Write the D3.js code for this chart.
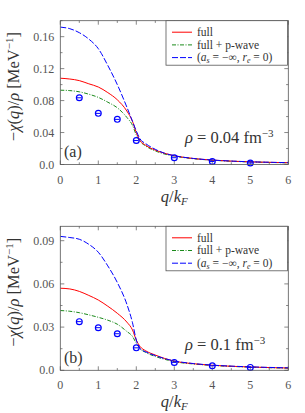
<!DOCTYPE html>
<html>
<head>
<meta charset="utf-8">
<script src="https://cdnjs.cloudflare.com/ajax/libs/d3/7.8.5/d3.min.js"></script>
<style>
  body { margin: 0; background: #fff; }
  svg text { font-family: "Liberation Serif", "DejaVu Serif", serif; fill: #333; }
  .tick-label { font-size: 12px; fill: #555; }
  .leg { font-size: 11.5px; fill: #333; }
</style>
</head>
<body>
<div id="chart"></div>
<script>
// ---- data ----
var qFine = [0, 0.25, 0.5, 0.75, 1, 1.25, 1.5, 1.75, 1.9, 2, 2.1, 2.25, 2.5, 2.75, 3, 3.5, 4, 4.5, 5, 5.5, 6];

var fullA   = [0.108, 0.107, 0.105, 0.101, 0.097, 0.090, 0.081, 0.067, 0.054, 0.040, 0.030, 0.024, 0.018, 0.014, 0.011, 0.0075, 0.0055, 0.0042, 0.0033, 0.0027, 0.0022];
var pwaveA  = [0.093, 0.0925, 0.091, 0.088, 0.084, 0.078, 0.071, 0.059, 0.049, 0.037, 0.029, 0.023, 0.017, 0.013, 0.0105, 0.0073, 0.0054, 0.0041, 0.0032, 0.0026, 0.0021];
var unitA   = [0.172, 0.170, 0.165, 0.157, 0.145, 0.124, 0.100, 0.072, 0.054, 0.042, 0.032, 0.026, 0.019, 0.014, 0.011, 0.0076, 0.0056, 0.0043, 0.0034, 0.0028, 0.0023];
var qDots   = [0.5, 1, 1.5, 2, 3, 4, 5];
var dotsA   = [0.0835, 0.064, 0.0565, 0.030, 0.0085, 0.0038, 0.0018];

var fullB   = [0.057, 0.0565, 0.0548, 0.052, 0.0488, 0.0445, 0.0396, 0.0335, 0.0280, 0.021, 0.0165, 0.0135, 0.0106, 0.0082, 0.0064, 0.0046, 0.0035, 0.0028, 0.0023, 0.0019, 0.0016];
var pwaveB  = [0.0415, 0.041, 0.040, 0.0385, 0.0368, 0.0348, 0.0320, 0.0270, 0.0235, 0.0188, 0.0150, 0.0124, 0.0096, 0.0076, 0.0060, 0.0044, 0.0034, 0.0027, 0.0022, 0.0018, 0.0015];
var unitB   = [0.093, 0.0922, 0.091, 0.0875, 0.082, 0.0725, 0.061, 0.046, 0.033, 0.021, 0.0150, 0.0128, 0.0102, 0.0081, 0.0065, 0.0047, 0.0036, 0.0029, 0.0024, 0.0020, 0.0017];
var dotsB   = [0.0338, 0.0296, 0.0254, 0.0156, 0.0055, 0.0031, 0.0020];

var xTicks = [0, 1, 2, 3, 4, 5, 6];
var yTicksA = [0, 0.04, 0.08, 0.12, 0.16];
var yTicksB = [0, 0.03, 0.06, 0.09];
var tickLabelsA = ["0.0", "0.04", "0.08", "0.12", "0.16"];
var tickLabelsB = ["0.0", "0.03", "0.06", "0.09"];
var legendNames = ["full", "full + p-wave", "(a_s = −∞, r_e = 0)"];

var W = 305, H = 413;
var svg = d3.select("#chart").append("svg").attr("width", W).attr("height", H);

var panels = [
  {top: 20.7, bottom: 164.5, yMax: 0.18, yTicks: yTicksA, yLabels: tickLabelsA, yMinor: 0.02,
   full: fullA, pwave: pwaveA, unit: unitA, dots: dotsA, tag: "(a)", rho: "0.04"},
  {top: 226.3, bottom: 370.3, yMax: 0.1, yTicks: yTicksB, yLabels: tickLabelsB, yMinor: 0.015,
   full: fullB, pwave: pwaveB, unit: unitB, dots: dotsB, tag: "(b)", rho: "0.1"}
];

var left = 60.3, right = 288.3;

panels.forEach(function(p) {
  var x = d3.scaleLinear().domain([0, 6]).range([left, right]);
  var y = d3.scaleLinear().domain([0, p.yMax]).range([p.bottom, p.top]);
  var g = svg.append("g");

  // clip
  var cid = "clip" + p.tag.charAt(1);
  g.append("clipPath").attr("id", cid).append("rect")
    .attr("x", left).attr("y", p.top).attr("width", right - left).attr("height", p.bottom - p.top);

  // ticks (inside, all four sides)
  var xMinor = d3.range(0, 6.01, 0.5);
  xMinor.forEach(function(v) {
    var major = Math.abs(v - Math.round(v)) < 1e-6;
    var len = major ? 4 : 2.2;
    g.append("line").attr("x1", x(v)).attr("x2", x(v)).attr("y1", p.bottom).attr("y2", p.bottom - len)
      .attr("stroke", "#555").attr("stroke-width", 0.7);
    g.append("line").attr("x1", x(v)).attr("x2", x(v)).attr("y1", p.top).attr("y2", p.top + len)
      .attr("stroke", "#555").attr("stroke-width", 0.7);
  });
  var yMinor = d3.range(0, p.yMax + 1e-9, p.yMinor);
  yMinor.forEach(function(v, i) {
    var len = (i % 2 === 0) ? 4 : 2.2;
    g.append("line").attr("x1", left).attr("x2", left + len).attr("y1", y(v)).attr("y2", y(v))
      .attr("stroke", "#555").attr("stroke-width", 0.7);
    g.append("line").attr("x1", right).attr("x2", right - len).attr("y1", y(v)).attr("y2", y(v))
      .attr("stroke", "#555").attr("stroke-width", 0.7);
  });

  // tick labels
  xTicks.forEach(function(v) {
    g.append("text").attr("class", "tick-label").attr("x", x(v)).attr("y", p.bottom + 19)
      .attr("text-anchor", "middle").text(v);
  });
  p.yTicks.forEach(function(v, i) {
    g.append("text").attr("class", "tick-label").attr("x", left - 6).attr("y", y(v) + 4)
      .attr("text-anchor", "end").text(p.yLabels[i]);
  });

  // curves
  var line = d3.line().x(function(d, i) { return x(qFine[i]); }).y(function(d) { return y(d); })
    .curve(d3.curveMonotoneX);
  var cg = g.append("g").attr("clip-path", "url(#" + cid + ")");
  cg.append("path").attr("d", line(p.pwave)).attr("fill", "none").attr("stroke", "#1a8a1a")
    .attr("stroke-width", 1).attr("stroke-dasharray", "4,1.5,1,1.5");
  cg.append("path").attr("d", line(p.full)).attr("fill", "none").attr("stroke", "#ff0000")
    .attr("stroke-width", 1);
  cg.append("path").attr("d", line(p.unit)).attr("fill", "none").attr("stroke", "#0000ff")
    .attr("stroke-width", 1).attr("stroke-dasharray", "6,2");

  // data points
  var dg = g.append("g");
  qDots.forEach(function(q, i) {
    var cx = x(q), cy = y(p.dots[i]);
    dg.append("circle").attr("cx", cx).attr("cy", cy).attr("r", 2.9)
      .attr("fill", "none").attr("stroke", "#0000ff").attr("stroke-width", 1.2);
    dg.append("line").attr("x1", cx - 2.3).attr("x2", cx + 2.3).attr("y1", cy).attr("y2", cy)
      .attr("stroke", "#0000ff").attr("stroke-width", 1);
  });

  // frame
  g.append("rect").attr("x", left).attr("y", p.top).attr("width", right - left).attr("height", p.bottom - p.top)
    .attr("fill", "none").attr("stroke", "#555").attr("stroke-width", 0.8);

  // legend
  var lx = 166, ly = p.top, lw = 121.5, lh = 44.5;
  g.append("rect").attr("x", lx).attr("y", ly).attr("width", lw).attr("height", lh)
    .attr("fill", "#fff").attr("stroke", "#555").attr("stroke-width", 0.8);
  var styles = [
    {c: "#ff0000", d: null}, {c: "#1a8a1a", d: "4,1.5,1,1.5"}, {c: "#0000ff", d: "6,2"}
  ];
  legendNames.forEach(function(name, i) {
    var yy = ly + 11.5 + i * 12.7;
    var l = g.append("line").attr("x1", lx + 6).attr("x2", lx + 26).attr("y1", yy).attr("y2", yy)
      .attr("stroke", styles[i].c).attr("stroke-width", 1);
    if (styles[i].d) l.attr("stroke-dasharray", styles[i].d);
    var t = g.append("text").attr("class", "leg").attr("x", lx + 31).attr("y", yy + 3.8);
    if (i < 2) {
      t.text(name);
    } else {
      t.append("tspan").text("(");
      t.append("tspan").attr("font-style", "italic").text("a");
      t.append("tspan").attr("font-size", "8px").attr("dy", 2).attr("font-style", "italic").text("s");
      t.append("tspan").attr("dy", -2).text(" = −∞, ");
      t.append("tspan").attr("font-style", "italic").text("r");
      t.append("tspan").attr("font-size", "8px").attr("dy", 2).attr("font-style", "italic").text("e");
      t.append("tspan").attr("dy", -2).text(" = 0)");
    }
  });

  // panel tag and density
  g.append("text").attr("x", 64).attr("y", p.bottom - 7.5).attr("font-size", "16px").text(p.tag);
  var rt = g.append("text").attr("x", 185).attr("y", p.bottom - (p.tag === "(a)" ? 22 : 20)).attr("font-size", "16.5px");
  rt.append("tspan").attr("font-style", "italic").text("ρ");
  rt.append("tspan").text(" = " + p.rho + " fm");
  rt.append("tspan").attr("font-size", "11px").attr("dy", -6).text("−3");

  // axis labels
  var xl = g.append("text").attr("x", (left + right) / 2).attr("y", p.bottom + 37)
    .attr("text-anchor", "middle").attr("font-size", "16.5px");
  xl.append("tspan").attr("font-style", "italic").text("q");
  xl.append("tspan").text("/");
  xl.append("tspan").attr("font-style", "italic").text("k");
  xl.append("tspan").attr("font-style", "italic").attr("font-size", "11px").attr("dy", 3).text("F");

  var yl = g.append("text").attr("transform", "translate(19," + ((p.top + p.bottom) / 2 - 6) + ") rotate(-90)")
    .attr("text-anchor", "middle").attr("font-size", "16.5px");
  yl.append("tspan").text("−");
  yl.append("tspan").attr("font-style", "italic").text("χ");
  yl.append("tspan").text("(");
  yl.append("tspan").attr("font-style", "italic").text("q");
  yl.append("tspan").text(")/");
  yl.append("tspan").attr("font-style", "italic").text("ρ");
  yl.append("tspan").text("  [MeV");
  yl.append("tspan").attr("font-size", "11px").attr("dy", -6).text("−1");
  yl.append("tspan").attr("dy", 6).text("]");
});
</script>
</body>
</html>
